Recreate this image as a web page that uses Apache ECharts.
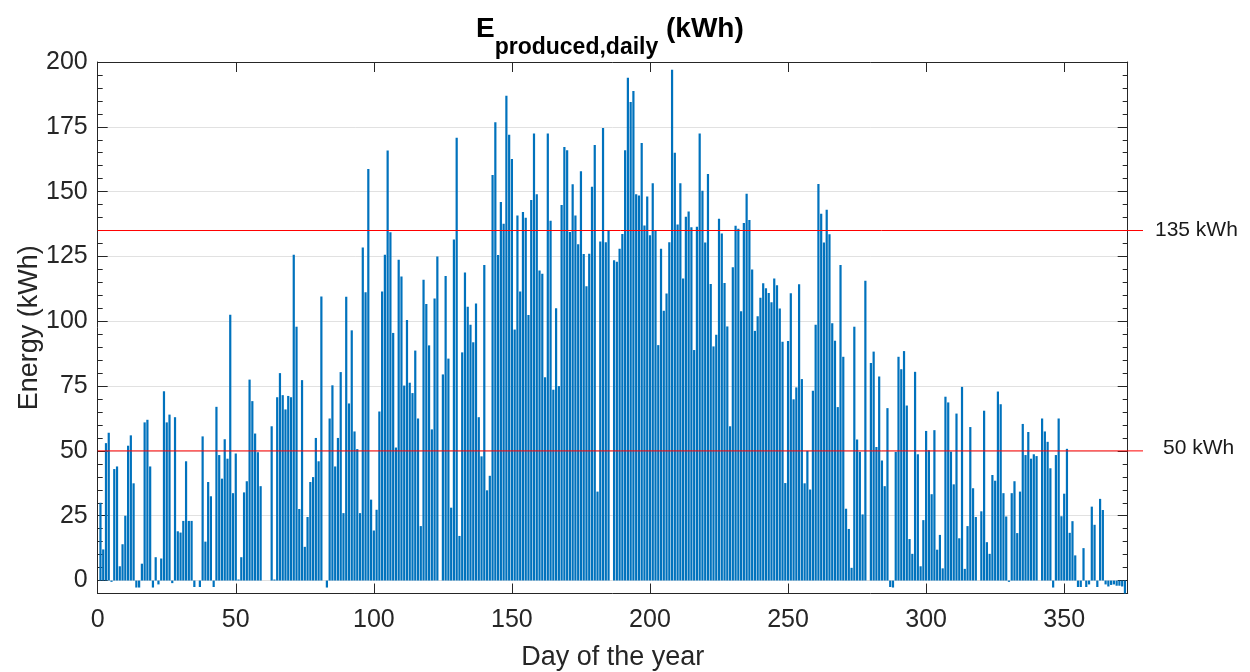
<!DOCTYPE html>
<html><head><meta charset="utf-8">
<script src="https://cdn.jsdelivr.net/npm/echarts@6/dist/echarts.min.js"></script>
<style>html,body{margin:0;padding:0;background:#fff}#c{width:1250px;height:672px}</style>
</head><body><div id="c"></div>
<script>
// Daily produced energy (kWh), day 1 .. day 372
const energy = [
 30, 12, 53, 57, -0.5, 43, 44, 5.5, 14, 25,
 52, 56, 37.5, -2.7, -2.7, 6.5, 61, 62, 44, -2.7,
 9, -1.5, 8.5, 73, 61, 64, -1, 63, 19, 18.5,
 23, 46, 23, 23, -2.5, 0, -2.5, 55.6, 15, 38,
 32.5, -2.5, 67, 48.4, 39.3, 54.5, 47, 102.5, 33.7, 49,
 0.4, 9, 34, 38.3, 77.5, 69.2, 56.7, 49.5, 36.4, 0,
 0, 0, 59.5, 0.4, 70.7, 80, 71.5, 66, 71.2, 70.7,
 125.7, 97.9, 27.6, 77.3, 13, 24.5, 38, 39.9, 55, 46,
 109.6, 0, -2.7, 62.5, 75.3, 44, 55, 80.4, 26, 109.5,
 68.3, 96.5, 57.5, 50.7, 26, 128.5, 111.2, 158.7, 31.2, 19.3,
 27.3, 65.2, 111.5, 125.7, 165.9, 134.3, 95.5, 51.3, 123.7, 117.3,
 75.2, 100.5, 76.3, 72.3, 88.7, 62.5, 21, 116, 106.7, 90.7,
 58.3, 108.8, 125, 0, 79.5, 117.5, 85.6, 28.1, 131.5, 170.8,
 17.2, 88, 118.8, 105.6, 98.7, 91.9, 106.9, 63, 47.9, 121.7,
 34.8, 40.4, 156.4, 176.8, 125.6, 146, 137.6, 187, 171.9, 162.6,
 96.8, 140.8, 111.5, 142.1, 139.9, 102.4, 146.8, 172.4, 149, 119.6,
 118.3, 78.4, 172.4, 138.8, 73.6, 105, 75, 144.8, 167.2, 166,
 134.4, 152.8, 140.8, 129.7, 157.9, 125.9, 113.5, 126, 151.9, 168,
 34.3, 130.8, 174.5, 130.5, 134.8, 0, 123.5, 123, 128, 133.7,
 166, 193.9, 184.6, 188.8, 149, 148.5, 168.8, 136.9, 148.1, 133.2,
 153.2, 134.8, 90.8, 128, 104.1, 110.7, 130.5, 197, 165, 137.3,
 153.2, 116.5, 140.3, 142.3, 136.3, 88.9, 136.5, 172.4, 150.3, 130.4,
 156.8, 114.4, 90.3, 94.8, 139.5, 133.9, 114.8, 98, 59.5, 120.8,
 136.8, 135.7, 103.9, 137.9, 149.2, 139.1, 120, 96.3, 101.9, 109.1,
 114.7, 112.7, 110.9, 107.3, 116.5, 113.9, 104.9, 92.1, 37.6, 92.4,
 110.8, 69.9, 74.5, 114.3, 77.7, 37.5, 50, 35.1, 73.2, 98.7,
 152.9, 141.5, 130.4, 143, 133.6, 99.2, 92.5, 66.9, 121.7, 86.3,
 27.7, 19.9, 4.9, 97.9, 54.4, 49.6, 25.5, 115.6, 0, 83.9,
 88.3, 51.5, 78.7, 46.3, 36.4, 66.5, -2.5, -2.7, 49.6, 86.3,
 81.5, 88.5, 67.5, 16, 10.3, 80.5, 48.7, 5.5, 23.3, 57.7,
 50.3, 33.3, 58, 11.9, 17.6, 4.7, 70.9, 68.7, 49.7, 37.1,
 64.4, 16.3, 74.7, 4.5, 21, 59.2, 35.6, 24.5, 0, 26.7,
 65.5, 14.8, 10.3, 40.7, 38.5, 72.9, 68, 33.7, 24.7, -0.5,
 33.7, 38.3, 18.3, 34.3, 60.4, 48.4, 57.3, 47, 48.7, 48,
 0, 62.5, 57.5, 53.5, 43.3, -2.7, 48.4, 62.5, 24.8, 33.5,
 50.8, 18.4, 22.9, 9.7, -2.5, -2.5, 12.5, -2.5, -1.5, 28.5,
 21.5, -2.5, 31.5, 27.2, -1.5, -2.3, -1.7, -1.5, -2, -2,
 -2.3, -5
];
const days = energy.map((v, i) => i + 1);
const xTicks = [0, 50, 100, 150, 200, 250, 300, 350];
const yMajorTicks = [0, 25, 50, 75, 100, 125, 150, 175, 200];
const thresholds = [135, 50];
const thresholdLabels = ['135 kWh', '50 kWh'];

const X_MIN = 0, X_MAX = 373, Y_MIN = -5, Y_MAX = 200;
const yMinorTicks = [];
for (let v = 0; v <= Y_MAX; v += 5) yMinorTicks.push(v);

const FONT = "'Liberation Sans', Arial, Helvetica, sans-serif";
const AX = '#262626';
const W = 1250, H = 672;
const gridL = 97.7, gridRightX = 1127.7, gridT = 62, gridBottomY = 593.5;
const refLineEndX = 1143;
const barW = 0.8 * (gridRightX - gridL) / (X_MAX - X_MIN);

const chart = echarts.init(document.getElementById('c'), null, {renderer: 'canvas'});

function yAx(pos, len, ticks, extra) {
  return Object.assign({
    gridIndex: 0, type: 'value', min: Y_MIN, max: Y_MAX, position: pos,
    axisLine: {show: false, onZero: false},
    axisTick: {show: true, inside: true, length: len, customValues: ticks, lineStyle: {color: AX, width: 1}},
    axisLabel: {show: false},
    splitLine: {show: false}
  }, extra || {});
}

const option = {
  animation: false,
  backgroundColor: '#ffffff',
  textStyle: {fontFamily: FONT},
  title: {
    text: '{e|E}{s|produced,daily}{k| (kWh)}',
    left: 476, top: 15, padding: 0,
    textStyle: {
      rich: {
        e: {fontSize: 28, fontWeight: 'bold', fontFamily: FONT, color: '#000', lineHeight: 44, verticalAlign: 'top'},
        s: {fontSize: 23, fontWeight: 'bold', fontFamily: FONT, color: '#000', lineHeight: 27, verticalAlign: 'bottom'},
        k: {fontSize: 28, fontWeight: 'bold', fontFamily: FONT, color: '#000', lineHeight: 44, verticalAlign: 'top'}
      }
    }
  },
  grid: [
    {left: gridL, right: W - gridRightX, top: gridT, bottom: H - gridBottomY, containLabel: false, outerBoundsMode: 'none'},
    {left: gridL, right: W - refLineEndX, top: gridT, bottom: H - gridBottomY, containLabel: false, outerBoundsMode: 'none'}
  ],
  xAxis: [
    {
      gridIndex: 0, type: 'value', min: X_MIN, max: X_MAX, position: 'bottom',
      axisLine: {show: true, onZero: false, lineStyle: {color: AX, width: 1}},
      axisTick: {show: true, inside: true, length: 10, customValues: xTicks, lineStyle: {color: AX}},
      axisLabel: {customValues: xTicks, fontSize: 25, color: AX, margin: 14, fontFamily: FONT},
      splitLine: {show: false},
      name: 'Day of the year', nameLocation: 'middle', nameGap: 51, nameMoveOverlap: false,
      nameTextStyle: {fontSize: 27, color: AX, fontFamily: FONT}
    },
    {
      gridIndex: 0, type: 'value', min: X_MIN, max: X_MAX, position: 'top',
      axisLine: {show: true, onZero: false, lineStyle: {color: AX, width: 1}},
      axisTick: {show: true, inside: true, length: 10, customValues: xTicks, lineStyle: {color: AX}},
      axisLabel: {show: false}, splitLine: {show: false}
    },
    {gridIndex: 1, type: 'value', min: 0, max: 1, show: false}
  ],
  yAxis: [
    yAx('left', 10, yMajorTicks, {
      axisLine: {show: true, onZero: false, lineStyle: {color: AX, width: 1}},
      axisLabel: {show: true, customValues: yMajorTicks, fontSize: 25, color: AX, margin: 10, fontFamily: FONT},
      splitLine: {show: true, lineStyle: {color: '#e1e1e1', width: 1}},
      name: 'Energy (kWh)', nameLocation: 'middle', nameGap: 55, nameRotate: 90, nameMoveOverlap: false,
      nameTextStyle: {fontSize: 27, color: AX, fontFamily: FONT}
    }),
    yAx('left', 5, yMinorTicks),
    yAx('right', 10, yMajorTicks, {axisLine: {show: true, onZero: false, lineStyle: {color: AX, width: 1}}}),
    yAx('right', 5, yMinorTicks),
    {gridIndex: 1, type: 'value', min: Y_MIN, max: Y_MAX, show: false}
  ],
  series: [
    {
      type: 'bar', xAxisIndex: 0, yAxisIndex: 0,
      data: days.map((d, i) => [d, energy[i]]),
      barWidth: barW,
      itemStyle: {color: '#0072BD'},
      silent: true, z: 2
    }
  ].concat(thresholds.map((t, i) => ({
    type: 'line', xAxisIndex: 2, yAxisIndex: 4,
    data: [[0, t], [1, t]],
    symbol: 'none', silent: true, z: 5,
    lineStyle: {color: '#ff0000', width: 1},
    endLabel: {show: true, formatter: thresholdLabels[i], fontSize: 21, color: '#1a1a1a', fontFamily: FONT,
               distance: i === 0 ? 12 : 20, offset: i === 0 ? [0, 0] : [0, -3]}
  })))
};
chart.setOption(option);
</script>
</body></html>
